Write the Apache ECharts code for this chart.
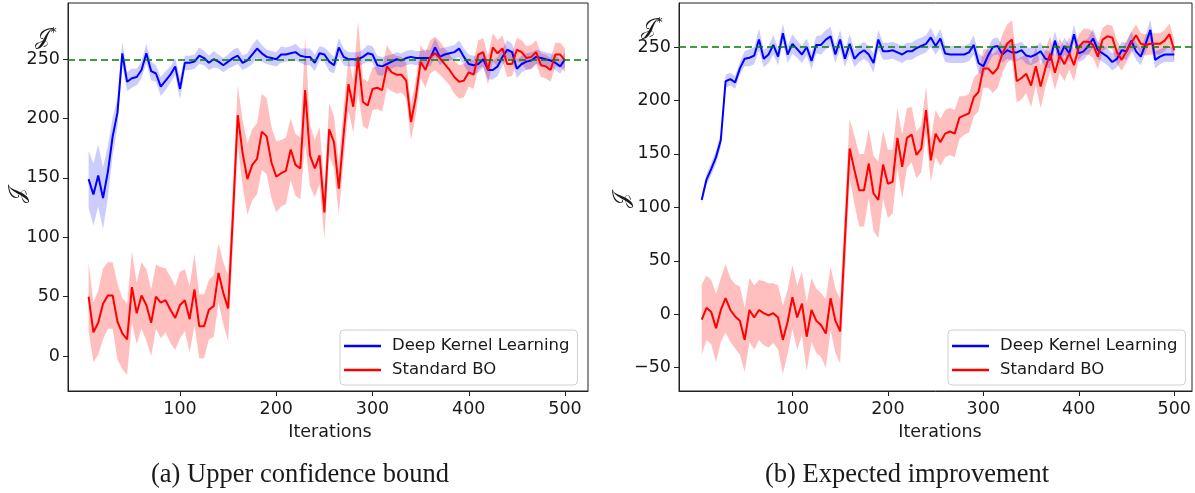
<!DOCTYPE html>
<html>
<head>
<meta charset="utf-8">
<script src="https://cdn.jsdelivr.net/npm/echarts@6/dist/echarts.min.js"></script>
<style>
  html, body { margin: 0; padding: 0; background: #fff; }
  #chart { width: 1195px; height: 493px; }
</style>
</head>
<body>
<div id="chart"></div>
<script>
// iterations (x), shared by all four curves
var iterations = [
  5, 10, 15, 20, 25, 30, 35, 40, 45, 50, 55, 60, 65, 70, 75, 80, 85, 90, 95, 100,
  105, 110, 115, 120, 125, 130, 135, 140, 145, 150, 155, 160, 165, 170, 175, 180, 185, 190, 195, 200,
  205, 210, 215, 220, 225, 230, 235, 240, 245, 250, 255, 260, 265, 270, 275, 280, 285, 290, 295, 300,
  305, 310, 315, 320, 325, 330, 335, 340, 345, 350, 355, 360, 365, 370, 375, 380, 385, 390, 395, 400,
  405, 410, 415, 420, 425, 430, 435, 440, 445, 450, 455, 460, 465, 470, 475, 480, 485, 490, 495, 500
]

// (a) Upper confidence bound
var ucbDkl = [
  149, 136, 152, 133, 155, 185, 205, 255, 231, 234, 235, 241, 255, 240, 238, 227, 232, 237, 244, 225,
  247, 247, 248, 253, 251, 247, 250, 248, 245, 248, 251, 253, 247, 249, 254, 259, 255, 252, 251, 250,
  254, 254, 255, 256, 253, 252, 252, 247, 255, 254, 248, 245, 260, 252, 250, 250, 250, 252, 255, 254,
  245, 244, 246, 248, 250, 249, 251, 252, 251, 251, 251, 251, 260, 252, 254, 255, 256, 259, 252, 246,
  245, 246, 250, 241, 241, 244, 252, 258, 256, 242, 246, 248, 249, 252, 251, 250, 249, 247, 244, 250
]
var ucbDklSd = [
  24, 26, 26, 26, 22, 16, 12, 10, 8, 8, 7, 7, 8, 8, 7, 8, 8, 7, 7, 9,
  6, 6, 6, 7, 6, 6, 7, 6, 6, 6, 7, 7, 6, 6, 8, 8, 7, 6, 6, 6,
  7, 6, 6, 7, 6, 7, 7, 7, 6, 6, 8, 7, 8, 7, 6, 6, 6, 6, 7, 7,
  8, 8, 7, 6, 6, 6, 6, 6, 6, 6, 7, 7, 8, 7, 6, 6, 6, 7, 7, 8,
  8, 7, 7, 8, 8, 8, 7, 8, 7, 8, 7, 7, 7, 6, 6, 6, 6, 6, 6, 6
]
var ucbSbo = [
  50, 20, 28, 44, 51, 51, 29, 19, 14, 58, 36, 51, 43, 28, 50, 45, 47, 39, 32, 43,
  47, 31, 56, 25, 25, 39, 42, 70, 53, 40, 119, 203, 171, 149, 161, 166, 189, 185, 163, 151,
  154, 156, 174, 161, 158, 224, 169, 158, 169, 121, 191, 180, 141, 187, 229, 210, 252, 214, 211, 225,
  226, 224, 244, 239, 237, 237, 232, 197, 218, 248, 241, 252, 255, 251, 246, 241, 235, 231, 232, 239,
  237, 254, 256, 241, 260, 255, 259, 246, 246, 258, 256, 251, 252, 256, 245, 244, 241, 254, 254, 249
]
var ucbSboSd = [
  29, 25, 27, 30, 28, 28, 32, 30, 30, 30, 26, 28, 30, 28, 27, 30, 27, 28, 27, 28,
  26, 28, 30, 27, 27, 25, 26, 25, 26, 28, 25, 25, 28, 30, 30, 30, 32, 32, 30, 30,
  28, 28, 26, 26, 26, 45, 26, 24, 24, 22, 22, 22, 22, 22, 22, 22, 30, 20, 20, 18,
  18, 18, 18, 16, 16, 15, 15, 15, 15, 14, 15, 14, 14, 14, 13, 13, 14, 14, 14, 12,
  12, 12, 12, 12, 12, 11, 11, 11, 10, 10, 10, 10, 10, 10, 10, 10, 10, 10, 10, 10
]

// (b) Expected improvement
var eiDkl = [
  107, 126, 136, 147, 163, 218, 220, 217, 230, 239, 240, 242, 257, 239, 243, 252, 241, 263, 243, 253,
  248, 243, 250, 237, 252, 252, 257, 260, 243, 257, 239, 253, 239, 244, 247, 243, 235, 257, 246, 246,
  247, 245, 243, 246, 246, 249, 251, 253, 259, 251, 258, 244, 243, 243, 243, 243, 245, 252, 235, 232,
  242, 250, 251, 243, 247, 245, 245, 247, 242, 241, 243, 246, 239, 238, 256, 241, 251, 244, 262, 244,
  246, 251, 258, 247, 244, 241, 236, 239, 247, 246, 256, 246, 241, 253, 266, 238, 241, 243, 243, 243
]
var eiDklSd = [
  4, 5, 6, 6, 6, 6, 6, 6, 6, 7, 8, 8, 10, 8, 8, 9, 8, 9, 8, 9,
  8, 8, 8, 8, 8, 9, 9, 9, 8, 9, 8, 9, 8, 8, 8, 8, 9, 9, 8, 8,
  8, 8, 8, 8, 8, 8, 8, 8, 9, 8, 9, 8, 8, 8, 8, 8, 8, 9, 9, 9,
  8, 8, 8, 8, 8, 8, 8, 8, 8, 8, 8, 8, 8, 8, 9, 8, 8, 8, 9, 8,
  8, 8, 9, 8, 8, 8, 8, 8, 8, 8, 9, 8, 8, 8, 10, 8, 7, 7, 7, 7
]
var eiSbo = [
  -5, 6, 2, -13, 4, 15, 4, -2, -6, -24, 4, -3, 4, 1, -1, 1, -3, -24, -7, 16,
  -3, 10, -21, 4, -6, -10, -18, 15, -6, -16, 70, 155, 135, 116, 116, 141, 113, 107, 140, 122,
  124, 165, 138, 165, 168, 149, 155, 191, 144, 169, 161, 169, 171, 169, 184, 186, 188, 203, 208, 230,
  230, 225, 230, 244, 253, 257, 218, 221, 225, 214, 232, 213, 230, 244, 226, 242, 234, 244, 233, 250,
  255, 255, 252, 241, 257, 260, 259, 245, 238, 246, 254, 261, 253, 252, 253, 253, 253, 256, 262, 247
]
var eiSboSd = [
  33, 30, 30, 32, 30, 32, 30, 30, 32, 30, 30, 30, 28, 30, 30, 28, 30, 32, 30, 30,
  30, 30, 32, 30, 30, 30, 32, 30, 30, 30, 30, 28, 32, 34, 34, 32, 35, 36, 32, 32,
  30, 28, 30, 28, 26, 22, 22, 22, 20, 22, 22, 22, 22, 22, 20, 18, 18, 18, 18, 18,
  18, 18, 18, 18, 18, 18, 20, 20, 18, 20, 18, 20, 18, 16, 16, 16, 16, 15, 15, 12,
  12, 12, 12, 12, 11, 11, 11, 11, 10, 10, 10, 10, 10, 10, 10, 10, 10, 10, 10, 10
]

var target = 250
var xTicks = [100, 200, 300, 400, 500]
var yTicksA = [0, 50, 100, 150, 200, 250]
var yTicksB = [-50, 0, 50, 100, 150, 200, 250]

var BLUE = '#0000ff'
var RED = '#ff0000'
var GREEN = '#008000'
var TXT = '#1a1a1a'
var SANS = 'DejaVu Sans'
var SCRIPT_J = '\uD835\uDCA5'

function pairs(xs, ys) {
  return xs.map(function (x, i) { return [x, ys[i]] })
}

// mean +/- sd shaded band, drawn as one polygon through the axis scales
function band(idx, mean, sd, color, opacity) {
  var data = iterations.map(function (x, i) { return [x, mean[i] - sd[i], mean[i] + sd[i]] })
  return {
    type: 'custom',
    xAxisIndex: idx,
    yAxisIndex: idx,
    silent: true,
    clip: true,
    z: 1,
    data: data,
    encode: { x: 0, y: [1, 2] },
    renderItem: function (params, api) {
      if (params.dataIndex !== 0) return null
      var top = data.map(function (d) { return api.coord([d[0], d[2]]) })
      var bottom = data.map(function (d) { return api.coord([d[0], d[1]]) }).reverse()
      return {
        type: 'polygon',
        shape: { points: top.concat(bottom) },
        style: { fill: color, opacity: opacity }
      }
    }
  }
}

function meanLine(idx, name, mean, color) {
  return {
    type: 'line',
    name: name,
    xAxisIndex: idx,
    yAxisIndex: idx,
    data: pairs(iterations, mean),
    symbol: 'none',
    lineStyle: { color: color, width: 2 },
    itemStyle: { color: color },
    z: 3
  }
}

function targetLine(idx) {
  return {
    type: 'line',
    xAxisIndex: idx,
    yAxisIndex: idx,
    data: [],
    silent: true,
    z: 5,
    markLine: {
      silent: true,
      symbol: 'none',
      label: { show: false },
      lineStyle: { color: GREEN, type: [7, 4], width: 1.6 },
      data: [{ yAxis: target }]
    }
  }
}

function xAxis(idx, min, max) {
  return {
    type: 'value',
    gridIndex: idx,
    min: min,
    max: max,
    splitLine: { show: false },
    axisLine: { onZero: false, lineStyle: { color: '#222', width: 1 } },
    axisTick: { customValues: xTicks, length: 5, lineStyle: { color: '#222' } },
    axisLabel: { customValues: xTicks, color: TXT, fontFamily: SANS, fontSize: 17.5, margin: 9 }
  }
}

function yAxis(idx, min, max, ticks) {
  return {
    type: 'value',
    gridIndex: idx,
    min: min,
    max: max,
    splitLine: { show: false },
    axisLine: { show: true, onZero: false, lineStyle: { color: '#222', width: 1 } },
    axisTick: { show: true, customValues: ticks, length: 5, lineStyle: { color: '#222' } },
    axisLabel: {
      customValues: ticks, color: TXT, fontFamily: SANS, fontSize: 17.5, margin: 8,
      formatter: function (v) { return String(v).replace('-', '\u2212') }
    }
  }
}

function legend(left) {
  return {
    left: left,
    top: 330,
    orient: 'vertical',
    data: ['Deep Kernel Learning', 'Standard BO'],
    icon: 'rect',
    itemWidth: 37,
    itemHeight: 2.5,
    itemGap: 4,
    padding: [6, 8, 5, 4],
    backgroundColor: '#fff',
    borderColor: '#d0d0d0',
    borderWidth: 1,
    borderRadius: 4,
    selectedMode: false,
    textStyle: { color: TXT, fontFamily: SANS, fontSize: 16.5, lineHeight: 20, padding: [0, 0, 0, 6] }
  }
}

function label(x, y, text, size, family, rotation) {
  return {
    type: 'text',
    x: x,
    y: y,
    rotation: rotation || 0,
    style: {
      text: text, fill: TXT, font: size + 'px "' + family + '"',
      align: 'center', verticalAlign: 'middle'
    }
  }
}

// J* marker next to the 250 tick
function starLabel(x, y) {
  return {
    type: 'text',
    x: x,
    y: y,
    style: {
      text: '{j|' + SCRIPT_J + '}{s|*}',
      align: 'center',
      verticalAlign: 'middle',
      rich: {
        j: { fontFamily: 'DejaVu Serif', fontSize: 22, fill: TXT, color: TXT },
        s: { fontFamily: 'DejaVu Sans', fontSize: 13, fill: TXT, color: TXT, verticalAlign: 'top', padding: [0, 0, 10, 0] }
      }
    }
  }
}

var chart = echarts.init(document.getElementById('chart'))
chart.setOption({
  animation: false,
  backgroundColor: '#fff',
  grid: [
    { left: 68, top: 3, width: 520, height: 388, show: true, borderColor: '#222', borderWidth: 1 },
    { left: 679, top: 3, width: 513, height: 388, show: true, borderColor: '#222', borderWidth: 1 }
  ],
  xAxis: [xAxis(0, -16.4, 523.9), xAxis(1, -18.8, 518.6)],
  yAxis: [yAxis(0, -29.5, 297.4, yTicksA), yAxis(1, -71.8, 291.2, yTicksB)],
  legend: [legend(340), legend(948)],
  series: [
    band(0, ucbSbo, ucbSboSd, RED, 0.25),
    band(0, ucbDkl, ucbDklSd, BLUE, 0.2),
    meanLine(0, 'Deep Kernel Learning', ucbDkl, BLUE),
    meanLine(0, 'Standard BO', ucbSbo, RED),
    targetLine(0),
    band(1, eiSbo, eiSboSd, RED, 0.25),
    band(1, eiDkl, eiDklSd, BLUE, 0.2),
    meanLine(1, 'Deep Kernel Learning', eiDkl, BLUE),
    meanLine(1, 'Standard BO', eiSbo, RED),
    targetLine(1)
  ],
  graphic: [
    label(330, 432, 'Iterations', 17.5, SANS),
    label(940, 432, 'Iterations', 17.5, SANS),
    label(18, 195, SCRIPT_J, 22, 'DejaVu Serif', Math.PI / 2),
    label(622, 200, SCRIPT_J, 22, 'DejaVu Serif', Math.PI / 2),
    starLabel(46, 38),
    starLabel(652, 28),
    label(300, 475, '(a) Upper confidence bound', 26.5, 'Liberation Serif'),
    label(907, 475, '(b) Expected improvement', 26.5, 'Liberation Serif')
  ]
})
</script>
</body>
</html>
